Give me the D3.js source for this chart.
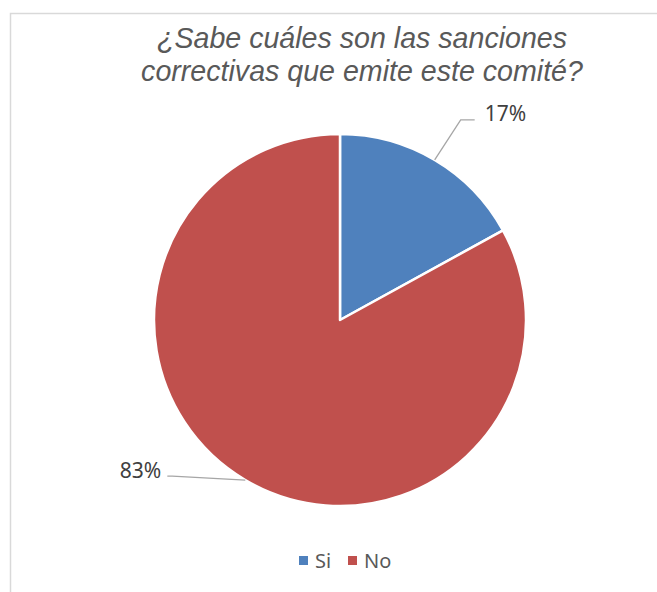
<!DOCTYPE html>
<html>
<head>
<meta charset="utf-8">
<script src="https://cdn.jsdelivr.net/npm/d3@7"></script>
<style>
  html, body { margin: 0; padding: 0; background: #fff; }
  svg { display: block; }
</style>
</head>
<body>
<div id="chart"></div>
<script>
// Pie: ¿Sabe cuáles son las sanciones correctivas que emite este comité?

var categories = ['Si', 'No'];
var values = [17, 83];
var colors = ['#4F81BD', '#C0504D'];
var titleLines = ['¿Sabe cuáles son las sanciones', 'correctivas que emite este comité?'];

var width = 657;
var height = 592;
var cx = 340, cy = 320, radius = 186;

var svg = d3.select('#chart').append('svg')
    .attr('width', width)
    .attr('height', height);

// chart area border (top + left visible, rest off-canvas)
svg.append('rect')
    .attr('x', 10.5)
    .attr('y', 13.5)
    .attr('width', width + 20)
    .attr('height', height + 20)
    .attr('fill', '#fff')
    .attr('stroke', '#d9d9d9')
    .attr('stroke-width', 1.5);

// Title
svg.append('text')
    .attr('x', 362)
    .attr('y', 48)
    .attr('text-anchor', 'middle')
    .style('font-family', '"Liberation Sans", Arial, sans-serif')
    .style('font-style', 'italic')
    .style('font-size', '28.6px')
    .attr('fill', '#595959')
    .selectAll('tspan')
    .data(titleLines)
    .join('tspan')
    .attr('x', 362)
    .attr('dy', function(d, i) { return i === 0 ? 0 : 33; })
    .text(function(d) { return d; });

// Pie
var pie = d3.pie().sort(null).value(function(d) { return d; });
var arcs = pie(values);
var arc = d3.arc().innerRadius(0).outerRadius(radius);

var g = svg.append('g').attr('transform', 'translate(' + cx + ',' + cy + ')');

g.selectAll('path')
    .data(arcs)
    .join('path')
    .attr('d', arc)
    .attr('fill', function(d, i) { return colors[i]; })
    .attr('stroke', '#fff')
    .attr('stroke-width', 2.5)
    .attr('stroke-linejoin', 'round');

// Data labels with leader lines
var labelFont = '"Noto Sans", "Open Sans", sans-serif';
var labelOffsets = [
    { elbow: [26, -40], end: 14, anchor: 'start', gap: 10 },
    { elbow: [-73, -4], end: -5, anchor: 'end', gap: -6 }
];

arcs.forEach(function(d, i) {
    var mid = (d.startAngle + d.endAngle) / 2;
    var ex = Math.sin(mid) * radius;
    var ey = -Math.cos(mid) * radius;
    var o = labelOffsets[i];
    var bx = ex + o.elbow[0];
    var by = ey + o.elbow[1];
    var tx = bx + o.end;

    g.append('polyline')
        .attr('points', [[ex, ey], [bx, by], [tx, by]].map(function(p) { return p.join(','); }).join(' '))
        .attr('fill', 'none')
        .attr('stroke', '#a6a6a6')
        .attr('stroke-width', 1.3);

    g.append('text')
        .attr('x', tx + o.gap)
        .attr('y', by + 1.5)
        .attr('text-anchor', o.anchor)
        .style('font-family', labelFont)
        .style('font-size', '21px')
        .attr('fill', '#404040')
        .text(Math.round(d.value / d3.sum(values) * 100) + '%');
});

// Legend
var legendX = [299, 348];
var legend = svg.append('g');
var items = legend.selectAll('g')
    .data(categories)
    .join('g')
    .attr('transform', function(d, i) { return 'translate(' + legendX[i] + ',556)'; });

items.append('rect')
    .attr('width', 9)
    .attr('height', 9)
    .attr('fill', function(d, i) { return colors[i]; });

items.append('text')
    .attr('x', 16)
    .attr('y', 11.5)
    .style('font-family', labelFont)
    .style('font-size', '20px')
    .attr('fill', '#595959')
    .text(function(d) { return d; });
</script>
</body>
</html>
